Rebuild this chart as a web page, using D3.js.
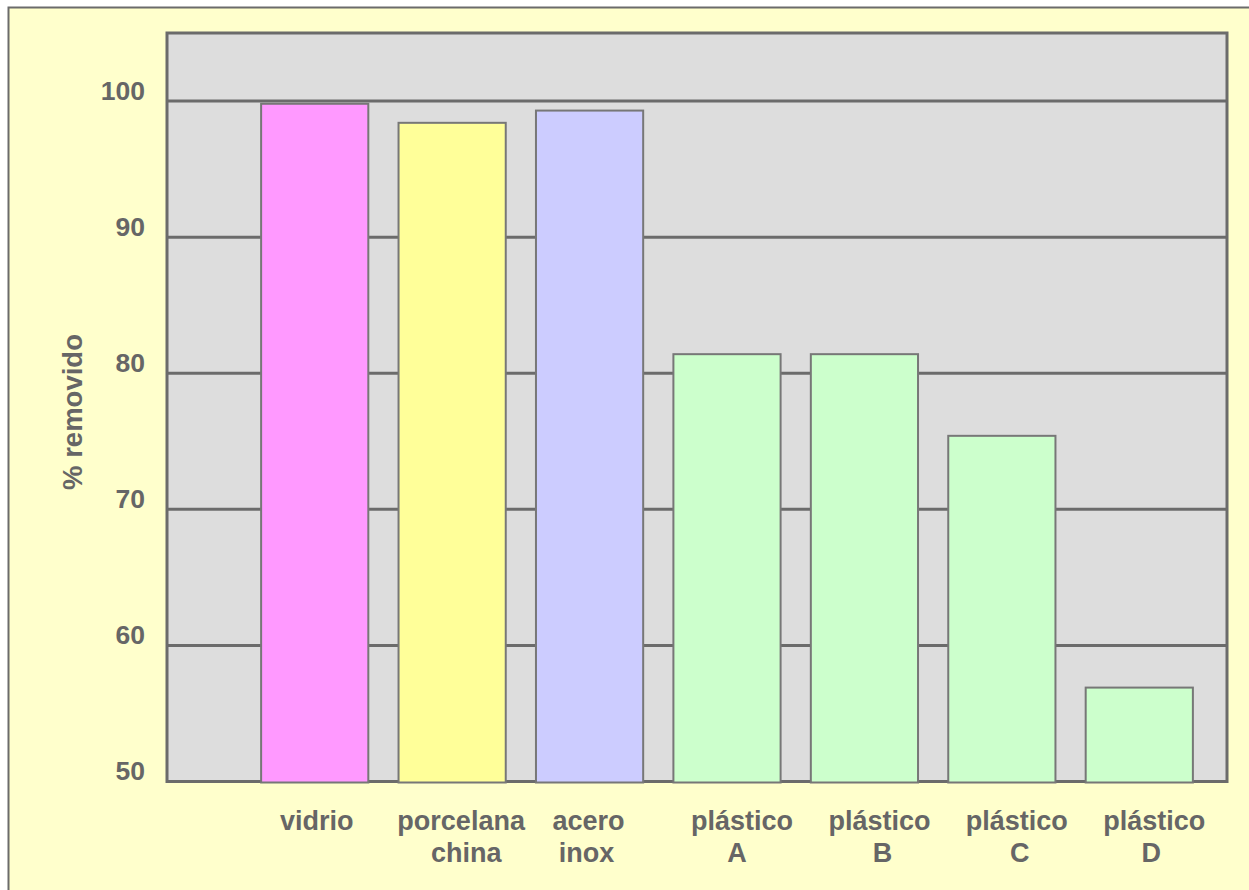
<!DOCTYPE html>
<html>
<head>
<meta charset="utf-8">
<title>% removido</title>
<script src="https://cdn.jsdelivr.net/npm/d3@7"></script>
<style>
  body { margin: 0; background: #fff; }
  text { font-family: "Liberation Sans", Arial, sans-serif; font-weight: bold; fill: #666; }
</style>
</head>
<body>
<div id="chart"></div>
<script>
// data
var categories = ["vidrio", "porcelana china", "acero inox", "plástico A", "plástico B", "plástico C", "plástico D"];
var labelLines = [["vidrio"], ["porcelana", "china"], ["acero", "inox"], ["plástico", "A"], ["plástico", "B"], ["plástico", "C"], ["plástico", "D"]];
var removed = [99.8, 98.4, 99.3, 81.4, 81.4, 75.4, 56.9];
var barColors = ["#FF99FF", "#FFFF99", "#CCCCFF", "#CCFFCC", "#CCFFCC", "#CCFFCC", "#CCFFCC"];
var yTicks = [50, 60, 70, 80, 90, 100];

var width = 1249, height = 890;
var plot = {left: 167, top: 33, right: 1227, bottom: 781.5};
var ink = "#6b6b6b";

var svg = d3.select("#chart").append("svg")
    .attr("width", width)
    .attr("height", height);

// outer chart area (runs past the window on the right and bottom)
svg.append("rect")
    .attr("x", 8.5).attr("y", 7.5)
    .attr("width", 1300).attr("height", 950)
    .attr("fill", "#FFFFCC")
    .attr("stroke", ink).attr("stroke-width", 2);

var x = d3.scaleBand()
    .domain(categories)
    .range([246, 1208])
    .paddingInner(0.22)
    .paddingOuter(0.11);

var y = d3.scaleLinear()
    .domain([50, 105])
    .range([plot.bottom, plot.top]);

// plot background
svg.append("rect")
    .attr("x", plot.left).attr("y", plot.top)
    .attr("width", plot.right - plot.left)
    .attr("height", plot.bottom - plot.top)
    .attr("fill", "#DDDDDD");

// gridlines
svg.append("g").selectAll("line")
    .data(yTicks)
    .enter().append("line")
    .attr("x1", plot.left).attr("x2", plot.right)
    .attr("y1", function(d) { return y(d); })
    .attr("y2", function(d) { return y(d); })
    .attr("stroke", ink).attr("stroke-width", 3);

// plot border
svg.append("rect")
    .attr("x", plot.left).attr("y", plot.top)
    .attr("width", plot.right - plot.left)
    .attr("height", plot.bottom - plot.top)
    .attr("fill", "none")
    .attr("stroke", ink).attr("stroke-width", 3);

// bars
svg.append("g").selectAll("rect")
    .data(categories)
    .enter().append("rect")
    .attr("x", function(d) { return x(d); })
    .attr("y", function(d, i) { return y(removed[i]); })
    .attr("width", x.bandwidth())
    .attr("height", function(d, i) { return y(50) - y(removed[i]) + 1; })
    .attr("fill", function(d, i) { return barColors[i]; })
    .attr("stroke", "#777").attr("stroke-width", 2);

// y axis labels
var yAxis = svg.append("g")
    .attr("transform", "translate(" + plot.left + ",0)")
    .call(d3.axisLeft(y).tickValues(yTicks).tickSize(0).tickPadding(22));
yAxis.select(".domain").remove();
yAxis.selectAll("text")
    .attr("font-size", "26.5px")
    .attr("font-family", null)
    .attr("fill", null)
    .attr("dy", "0.32em")
    .attr("y", -10);

// category labels (the originals sit a little right of the bars)
var nudge = [[2], [9, 14], [-1, -3], [15, 10], [15, 18], [15, 18], [15, 12]];
var xLabels = svg.append("g").selectAll("text")
    .data(categories)
    .enter().append("text")
    .attr("text-anchor", "middle")
    .attr("font-size", "27px");
xLabels.each(function(d, i) {
    var cx = x(d) + x.bandwidth() / 2;
    d3.select(this).selectAll("tspan")
        .data(labelLines[i])
        .enter().append("tspan")
        .attr("x", function(t, j) { return cx + nudge[i][j]; })
        .attr("y", function(t, j) { return 830 + j * 32; })
        .text(function(t) { return t; });
});

// y axis title
svg.append("text")
    .attr("transform", "translate(72,412) rotate(-90)")
    .attr("text-anchor", "middle")
    .attr("dominant-baseline", "central")
    .attr("font-size", "27.5px")
    .text("% removido");
</script>
</body>
</html>
